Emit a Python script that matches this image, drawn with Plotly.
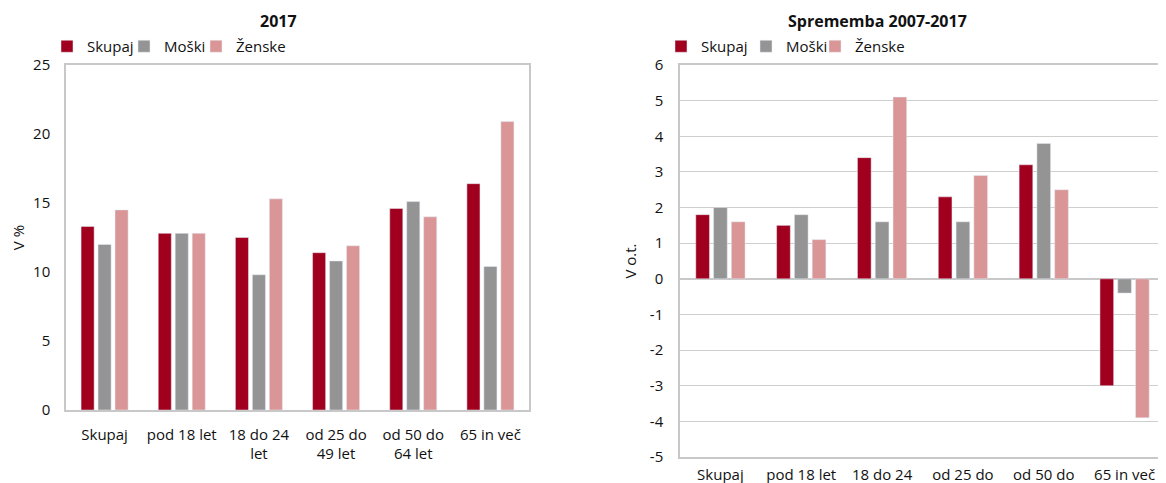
import plotly.graph_objects as go

categories_left = ["Skupaj", "pod 18 let", "18 do 24<br>let", "od 25 do<br>49 let", "od 50 do<br>64 let", "65 in več"]
categories_right = ["Skupaj", "pod 18 let", "18 do 24", "od 25 do", "od 50 do", "65 in več"]
series_names = ["Skupaj", "Moški", "Ženske"]

v2017_skupaj = [13.3, 12.8, 12.5, 11.4, 14.6, 16.4]
v2017_moski = [12.0, 12.8, 9.8, 10.8, 15.1, 10.4]
v2017_zenske = [14.5, 12.8, 15.3, 11.9, 14.0, 20.9]

chg_skupaj = [1.8, 1.5, 3.4, 2.3, 3.2, -3.0]
chg_moski = [2.0, 1.8, 1.6, 1.6, 3.8, -0.4]
chg_zenske = [1.6, 1.1, 5.1, 2.9, 2.5, -3.9]

left_ticks = [0, 5, 10, 15, 20, 25]
right_ticks = [-5, -4, -3, -2, -1, 0, 1, 2, 3, 4, 5, 6]

colors = ["#A0001E", "#949494", "#DA9696"]
FONT = "Open Sans"
FS = 15

# the page body has an 8px margin; the figure fills the rest of the window
OFF = 8
W = 1166 - OFF
H = 483 - OFF
def py(p):
    return 1 - (p - OFF) / H
def px(p):
    return (p - OFF) / W

# legend item left edges (screen px)
left_legend_x = [61, 138, 210]
right_legend_x = [675, 760, 829]

fig = go.Figure()
left_vals = [v2017_skupaj, v2017_moski, v2017_zenske]
right_vals = [chg_skupaj, chg_moski, chg_zenske]
legend_layouts = {}
n = 0
for name, vals, c, lx in zip(series_names, left_vals, colors, left_legend_x):
    n += 1
    key = "legend" if n == 1 else f"legend{n}"
    fig.add_trace(go.Bar(x=categories_left, y=vals, name=name, marker_color=c,
                         xaxis="x", yaxis="y", legend=key))
    legend_layouts[key] = dict(orientation="h", x=px(lx - 14), y=py(30), xanchor="left",
                               yanchor="top", font=dict(size=FS), itemwidth=30,
                               bgcolor="rgba(0,0,0,0)")
for name, vals, c, lx in zip(series_names, right_vals, colors, right_legend_x):
    n += 1
    key = f"legend{n}"
    fig.add_trace(go.Bar(x=categories_right, y=vals, name=name, marker_color=c,
                         xaxis="x2", yaxis="y2", legend=key))
    legend_layouts[key] = dict(orientation="h", x=px(lx - 14), y=py(30), xanchor="left",
                               yanchor="top", font=dict(size=FS), itemwidth=30,
                               bgcolor="rgba(0,0,0,0)")

axis_line = "#C8C8C8"
fig.update_layout(
    width=W, height=H,
    margin=dict(l=0, r=0, t=0, b=0, autoexpand=False),
    paper_bgcolor="white", plot_bgcolor="white",
    font=dict(family=FONT, size=FS, color="#111111"),
    barmode="group", bargap=0.34, bargroupgap=0.23,
    showlegend=True,
    xaxis=dict(domain=[px(66), px(529)], anchor="y", showline=True, mirror=True, automargin=False,
               linecolor=axis_line, linewidth=1.5, ticks="", tickfont=dict(size=FS),
               ticklabelstandoff=10),
    yaxis=dict(domain=[py(410), py(65)], anchor="x", range=[0, 25],
               tickvals=left_ticks, ticktext=[str(t) for t in left_ticks], automargin=False,
               showgrid=False, showline=True, mirror=True, linecolor=axis_line, linewidth=1.5,
               zeroline=False, tickfont=dict(size=FS), ticklabelstandoff=11,
               title=dict(text="V %", font=dict(size=FS), standoff=7)),
    xaxis2=dict(domain=[px(680), px(1165)], anchor="y2", showline=True, mirror=True, automargin=False,
                linecolor=axis_line, linewidth=1.5, ticks="", tickfont=dict(size=FS),
                ticklabelstandoff=3),
    yaxis2=dict(domain=[py(457), py(65)], anchor="x2", range=[-5, 6],
                tickvals=right_ticks, ticktext=[str(t) for t in right_ticks], automargin=False,
                showgrid=True, gridcolor="#CFCFCF", gridwidth=1.2,
                zeroline=True, zerolinecolor="#C8C8C8", zerolinewidth=1.5,
                showline=True, mirror=True, linecolor=axis_line, linewidth=1.5,
                tickfont=dict(size=FS), ticklabelstandoff=12,
                title=dict(text="V o.t.", font=dict(size=FS), standoff=10)),
    annotations=[
        dict(text="<b>2017</b>", x=px(278), y=py(8), xref="paper", yref="paper",
             showarrow=False, font=dict(size=16), xanchor="center", yanchor="top"),
        dict(text="<b>Sprememba 2007-2017</b>", x=px(877), y=py(8), xref="paper", yref="paper",
             showarrow=False, font=dict(size=16), xanchor="center", yanchor="top"),
    ],
    **legend_layouts,
)

fig.write_html("out.html")
